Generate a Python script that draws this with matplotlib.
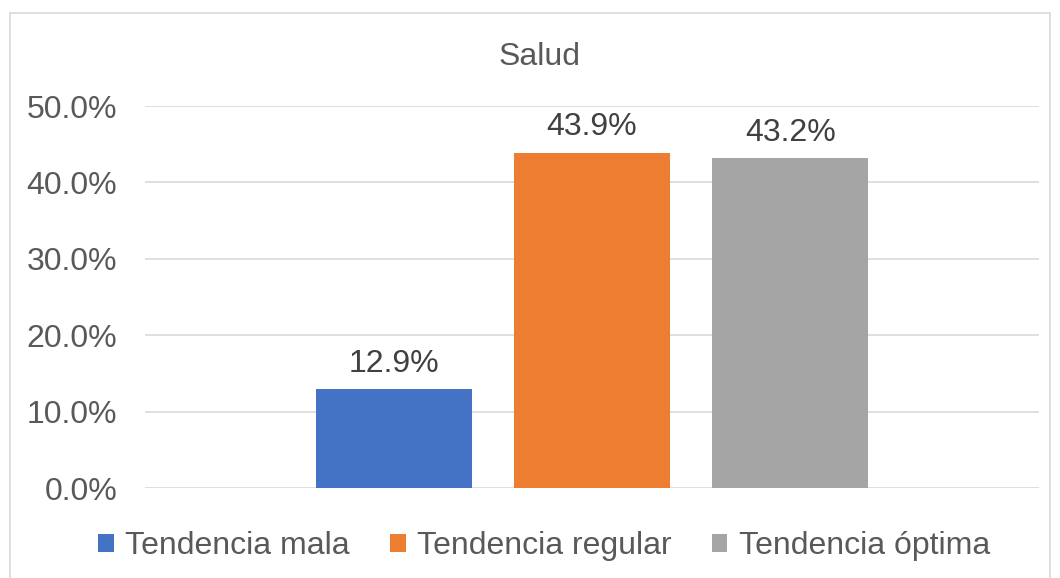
import matplotlib.pyplot as plt
from matplotlib.patches import Rectangle
from matplotlib.ticker import PercentFormatter

series = ["Tendencia mala", "Tendencia regular", "Tendencia óptima"]
values = [12.9, 43.9, 43.2]
colors = ["#4472C4", "#ED7D31", "#A5A5A5"]
yticks = [0, 10, 20, 30, 40, 50]

plt.rcParams["font.family"] = ["Liberation Sans", "DejaVu Sans"]
fs = 23

fig = plt.figure(figsize=(10.6, 5.78), dpi=100)
ax = fig.add_axes([145 / 1060, 1 - 488 / 578, 894 / 1060, 382 / 578])

# outer chart border
fig.patches.append(Rectangle((9.5 / 1060, -0.05), 1040 / 1060, 1.05 - 13 / 578,
                             transform=fig.transFigure, fill=False,
                             edgecolor="#d9d9d9", lw=1.2))

pos = [-1, 0, 1]
handles = []
for p, v, c, s in zip(pos, values, colors, series):
    b = ax.bar(p, v, width=0.786, color=c, label=s, zorder=3)
    handles.append(b)
    ax.annotate(f"{v:.1f}%", (p, v), xytext=(0, 12.5), textcoords="offset points",
                ha="center", va="baseline", fontsize=fs, color="#404040")

ax.set_xlim(-2.252, 2.252)
ax.set_ylim(0, 50)
ax.set_yticks(yticks)
ax.yaxis.set_major_formatter(PercentFormatter(decimals=1))
ax.set_xticks([])
ax.tick_params(axis="y", length=0, pad=20, labelsize=fs, labelcolor="#595959")
ax.grid(axis="y", color="#d9d9d9", lw=1.2, zorder=0)
for sp in ax.spines.values():
    sp.set_visible(False)

fig.text(539.5 / 1060, 1 - 65 / 578, "Salud", ha="center", va="baseline",
         fontsize=fs, color="#595959")

fig.legend(handles=handles, loc="center", bbox_to_anchor=(544 / 1060, 1 - 546 / 578),
           ncol=3, frameon=False, fontsize=fs, labelcolor="#595959",
           handlelength=0.5, handleheight=0.5, handletextpad=0.35,
           columnspacing=1.25, borderpad=0, borderaxespad=0)

fig.savefig("out.png", dpi=100)
